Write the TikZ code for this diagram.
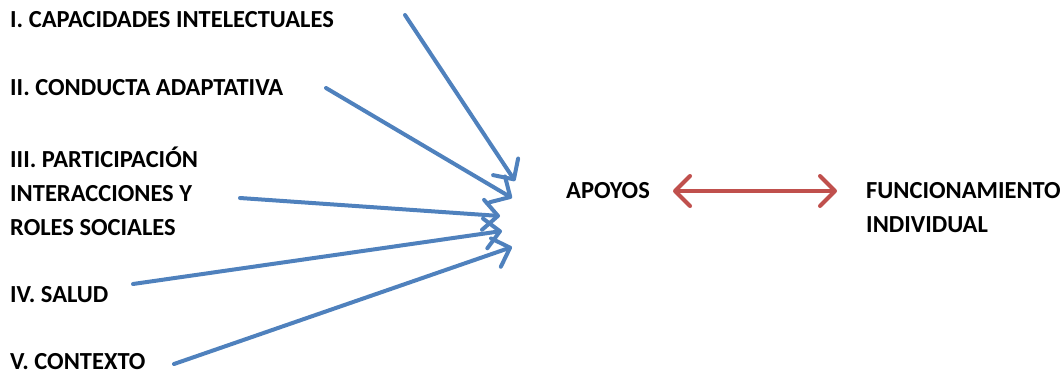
\documentclass[tikz,border=0pt]{standalone}
\usepackage{fontspec}
\setmainfont{Carlito}
\usepackage{xcolor}
\usetikzlibrary{arrows.meta}
\definecolor{dimblue}{RGB}{79,129,189}
\definecolor{dimred}{RGB}{192,80,77}
\tikzset{
  every dim node/.style={
    anchor=west,inner sep=0pt,align=left,font=\fontsize{24.5}{34}\selectfont\bfseries
  },
}

\begin{document}
\begin{tikzpicture}[x=1pt,y=-1pt]
		\tikzstyle{dim}=[every dim node]
		\tikzstyle{inarrow}=[draw=dimblue,line width=4pt,line cap=round,-{Straight Barb[length=15pt,width=30pt,line width=4pt,line join=round,line cap=round]}]
		\tikzstyle{bothway}=[draw=dimred,line width=4pt,line cap=round,{Straight Barb[length=15pt,width=30pt,line width=4pt,line join=round,line cap=round]}-{Straight Barb[length=15pt,width=30pt,line width=4pt,line join=round,line cap=round]}]
		\useasboundingbox (0,0) rectangle (1063,376);

		\node[dim] (intel) at (10,20) {I. CAPACIDADES INTELECTUALES};
		\node[dim] (adapt) at (10,88) {II. CONDUCTA ADAPTATIVA};
		\node[dim] (partic) at (10,191) {III. PARTICIPACIÓN\\INTERACCIONES Y\\ROLES SOCIALES};
		\node[dim] (salud) at (10,295) {IV. SALUD};
		\node[dim] (context) at (10,362) {V. CONTEXTO};

		\node[dim] (apoyos) at (566,191) {APOYOS};
		\node[dim] (funcion) at (866,208) {FUNCIONAMIENTO\\INDIVIDUAL};

		\coordinate (from1) at (405,15);
		\coordinate (from2) at (326,88);
		\coordinate (from3) at (240,198);
		\coordinate (from4) at (133,284);
		\coordinate (from5) at (174,364);
		\coordinate (to1) at (515,181);
		\coordinate (to2) at (512,198);
		\coordinate (to3) at (500,216);
		\coordinate (to4) at (502,231);
		\coordinate (to5) at (512,247);

		\draw[inarrow] (from1) -- (to1);
		\draw[inarrow] (from2) -- (to2);
		\draw[inarrow] (from3) -- (to3);
		\draw[inarrow] (from4) -- (to4);
		\draw[inarrow] (from5) -- (to5);
		\draw[bothway] ([xshift=23pt]apoyos.east) -- ([xshift=-29pt]funcion.west |- apoyos.east);

	\end{tikzpicture}
\end{document}
